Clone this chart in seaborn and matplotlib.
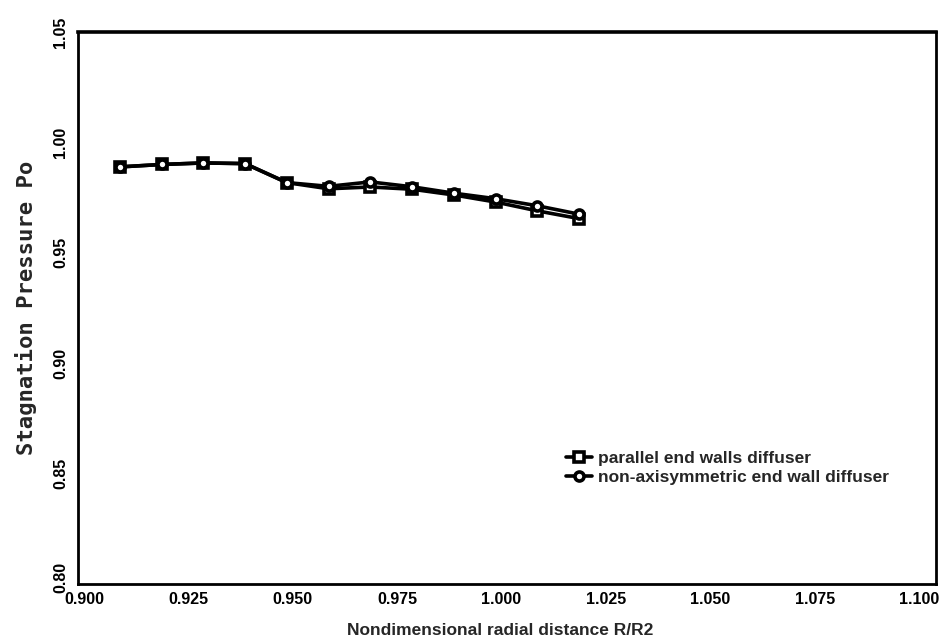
import matplotlib
matplotlib.use("Agg")
import matplotlib.pyplot as plt
import matplotlib.transforms as mtransforms
import numpy as np
import pandas as pd
import seaborn as sns

# Radial stations (R/R2) and stagnation pressure for the two diffusers
radius = [0.91, 0.92, 0.93, 0.94, 0.95, 0.96, 0.97, 0.98, 0.99, 1.00, 1.01, 1.02]
po_parallel = [0.9889, 0.9900, 0.9907, 0.9904, 0.9818, 0.9790, 0.9798, 0.9788,
               0.9762, 0.9730, 0.9690, 0.9655]
po_nonaxi = [0.9889, 0.9900, 0.9907, 0.9904, 0.9818, 0.9801, 0.9821, 0.9799,
             0.9770, 0.9745, 0.9713, 0.9675]
series_names = ["parallel end walls diffuser", "non-axisymmetric end wall diffuser"]

x_ticks = [0.900, 0.925, 0.950, 0.975, 1.000, 1.025, 1.050, 1.075, 1.100]
x_tick_labels = ["0.900", "0.925", "0.950", "0.975", "1.000", "1.025", "1.050", "1.075", "1.100"]
y_ticks = [0.80, 0.85, 0.90, 0.95, 1.00, 1.05]
y_tick_labels = ["0.80", "0.85", "0.90", "0.95", "1.00", "1.05"]

df = pd.DataFrame({
    "r": radius * 2,
    "po": po_parallel + po_nonaxi,
    "series": [series_names[0]] * len(radius) + [series_names[1]] * len(radius),
})

sns.set_theme(style="white")
plt.rcParams["font.family"] = ["Liberation Sans", "DejaVu Sans"]

fig = plt.figure(figsize=(9.49, 6.44), dpi=100)
ax = fig.add_axes([0.0822, 0.0932, 0.9041, 0.8571])

sns.lineplot(data=df, x="r", y="po", hue="series", style="series",
             palette=["black", "black"], markers=["s", "o"], dashes=False,
             linewidth=2.6, markersize=6.5, sort=False, legend=False, ax=ax)

for line in ax.lines:
    line.set_markerfacecolor("white")
    line.set_markeredgecolor("black")
    line.set_markeredgewidth(2.6)

ax.set_xlim(0.9, 1.1055)
ax.set_ylim(0.80, 1.05)
ax.set_xticks(x_ticks)
ax.set_xticklabels(x_tick_labels, fontsize=11.5, fontweight="bold")
ax.set_yticks(y_ticks)
ax.set_yticklabels(y_tick_labels, fontsize=11.5, fontweight="bold",
                   rotation=90, va="center")
ax.tick_params(axis="x", direction="in", length=5, width=1.5, pad=6, colors="black")
ax.tick_params(axis="y", direction="inout", length=6, width=1.5, pad=4, colors="black")

# tick labels sit slightly to the right of their ticks; lowest y label raised clear of the x labels
x_shift = mtransforms.ScaledTranslation(6 / 100, 0, fig.dpi_scale_trans)
for lbl in ax.get_xticklabels():
    lbl.set_transform(lbl.get_transform() + x_shift)
y_lift = mtransforms.ScaledTranslation(0, 7 / 100, fig.dpi_scale_trans)
low_lbl = ax.get_yticklabels()[0]
low_lbl.set_transform(low_lbl.get_transform() + y_lift)

for name, spine in ax.spines.items():
    spine.set_visible(True)
    spine.set_color("black")
    spine.set_linewidth(2.6 if name == "top" else 2.0)

ax.set_xlabel("Nondimensional radial distance R/R2", fontsize=12.5, fontweight="bold",
              labelpad=9)
ax.xaxis.set_label_coords(0.492, -0.07)
ax.set_ylabel("Stagnation Pressure Po", fontsize=16, fontweight="bold",
              family=["DejaVu Sans Mono"], labelpad=12)
ax.grid(False)

ax.legend(handles=ax.lines[:2], labels=series_names, loc="upper left",
          bbox_to_anchor=(0.550, 0.270), frameon=False, handlelength=1.5,
          handletextpad=0.35, labelspacing=0.25, borderpad=0.4,
          prop={"weight": "bold", "size": 12.5})

fig.savefig("out.png", dpi=100, facecolor="white")
